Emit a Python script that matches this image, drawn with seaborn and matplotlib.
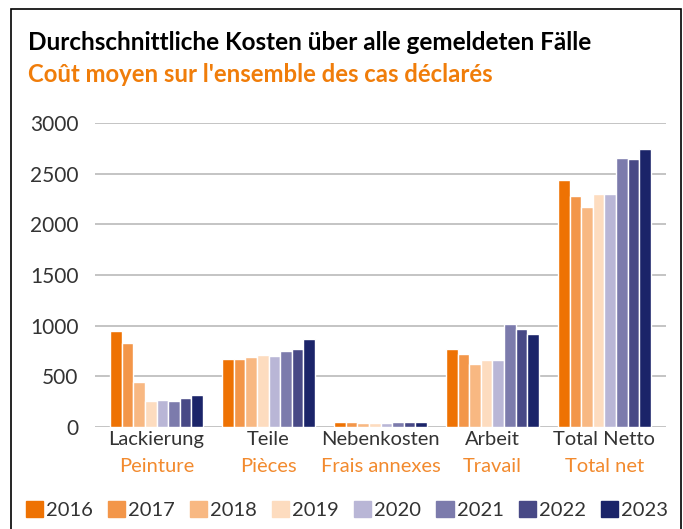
import pandas as pd
import seaborn as sns
import matplotlib.pyplot as plt
from matplotlib.patches import Rectangle

# categories (German / French)
kategorien_de = ['Lackierung', 'Teile', 'Nebenkosten', 'Arbeit', 'Total Netto']
kategorien_fr = ['Peinture', 'Pièces', 'Frais annexes', 'Travail', 'Total net']
jahre = ['2016', '2017', '2018', '2019', '2020', '2021', '2022', '2023']

# average cost per year, one list per category
lackierung = [948, 829, 444, 257, 266, 257, 286, 316]
teile = [671, 671, 691, 711, 701, 750, 770, 869]
nebenkosten = [45, 45, 35, 35, 35, 45, 45, 45]
arbeit = [771, 722, 624, 663, 663, 1016, 967, 918]
total_netto = [2438, 2281, 2172, 2300, 2300, 2655, 2645, 2744]

farben = ['#EE7203', '#F39649', '#F8B882', '#FDDCBF',
          '#B9B6D6', '#7C7BAC', '#484986', '#1B2469']

werte = [lackierung, teile, nebenkosten, arbeit, total_netto]
rows = []
for kat, vals in zip(kategorien_de, werte):
    for jahr, v in zip(jahre, vals):
        rows.append({'kategorie': kat, 'jahr': jahr, 'kosten': v})
df = pd.DataFrame(rows)

sns.set_style('white')
plt.rcParams['font.family'] = ['Lato', 'DejaVu Sans']

fig = plt.figure(figsize=(6.83, 5.29), dpi=100)
ax = fig.add_axes([95 / 683, 1 - 427 / 529, 571 / 683, 304 / 529])

sns.barplot(data=df, x='kategorie', y='kosten', hue='jahr',
            palette=farben, width=0.83, gap=0, saturation=1,
            order=kategorien_de, hue_order=jahre, ax=ax, legend=False)

ax.set_ylim(0, 3000)
ax.set_xlim(-0.55, 4.55)
ax.set_yticks([0, 500, 1000, 1500, 2000, 2500, 3000])
ax.yaxis.grid(True, color='#c4c4c4', linewidth=1.4)
ax.set_axisbelow(True)
sns.despine(ax=ax, left=True, bottom=True)
ax.tick_params(axis='y', length=0, pad=12, labelsize=15, labelcolor='#333333')
ax.tick_params(axis='x', length=0, pad=3, labelsize=14.5, labelcolor='#333333')
ax.set_xlabel('')
ax.set_ylabel('')

# French labels below the German ones
for i, fr in enumerate(kategorien_fr):
    ax.annotate(fr, xy=(i, 0), xycoords='data', xytext=(0, -22),
                textcoords='offset points', ha='center', va='top',
                fontsize=14.5, color='#F28A2E')

fig.text(28 / 683, 1 - 43 / 529, 'Durchschnittliche Kosten über alle gemeldeten Fälle',
         fontsize=17.5, fontweight='bold', color='black', va='center')
fig.text(28 / 683, 1 - 75 / 529, "Coût moyen sur l'ensemble des cas déclarés",
         fontsize=17.2, fontweight='bold', color='#F07D0A', va='center')

# legend
handles = [Rectangle((0, 0), 1, 1, color=c) for c in farben]
fig.legend(handles, jahre, loc='center', bbox_to_anchor=(347 / 683, 1 - 510 / 529),
           ncol=8, frameon=False, fontsize=14.5, handlelength=0.85, handleheight=0.85,
           handletextpad=0.15, columnspacing=0.75, labelcolor='#333333')

# frame around the figure
fig.add_artist(Rectangle((11 / 683, -0.1), 670 / 683, 1.1 - 9 / 529,
                         transform=fig.transFigure, fill=False,
                         edgecolor='black', linewidth=1.2))

fig.savefig('out.png', dpi=100)
